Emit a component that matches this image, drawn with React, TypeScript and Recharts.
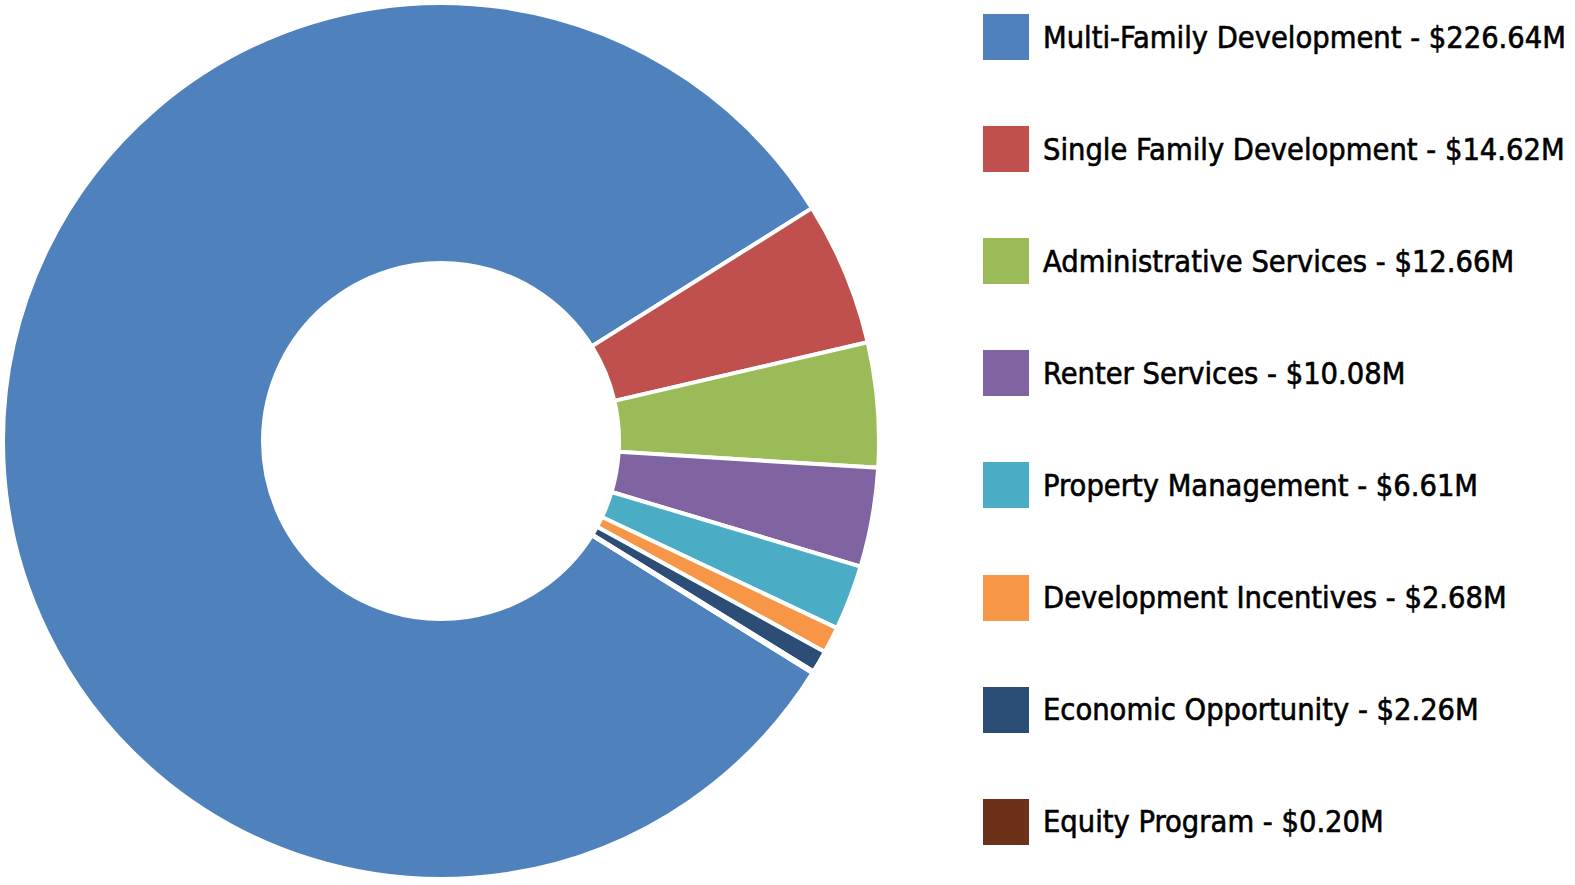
import { Cell, Legend, Pie, PieChart } from 'recharts'

const CATEGORIES = [
  'Multi-Family Development',
  'Single Family Development',
  'Administrative Services',
  'Renter Services',
  'Property Management',
  'Development Incentives',
  'Economic Opportunity',
  'Equity Program',
]
const AMOUNTS = [226.64, 14.62, 12.66, 10.08, 6.61, 2.68, 2.26, 0.2]
const COLORS = ['#4F81BD', '#C0504D', '#9BBB59', '#8064A2', '#4BACC6', '#F79646', '#2C4D75', '#6B3119']

const data = CATEGORIES.map((name, i) => ({ name, value: AMOUNTS[i] }))

const FONT = '"DejaVu Sans Condensed", "DejaVu Sans", sans-serif'

function BudgetLegend() {
  return (
    <div style={{ fontFamily: FONT, fontStretch: 'condensed' }}>
      {data.map((d, i) => (
        <div
          key={d.name}
          style={{ display: 'flex', alignItems: 'center', height: 112.1 }}
        >
          <span
            style={{
              width: 46,
              height: 46,
              background: COLORS[i],
              display: 'inline-block',
              marginRight: 14,
              flexShrink: 0,
            }}
          />
          <span
            style={{
              fontSize: 30.5,
              color: '#000',
              whiteSpace: 'nowrap',
              WebkitTextStroke: '0.6px #000',
            }}
          >
            {d.name} - ${d.value.toFixed(2)}M
          </span>
        </div>
      ))}
    </div>
  )
}

export default function App() {
  return (
    <div style={{ position: 'absolute', left: 0, top: 0, background: '#fff' }}>
      <PieChart width={1575} height={885} margin={{ top: 0, right: 0, bottom: 0, left: 0 }}>
        <Pie
          data={data}
          dataKey="value"
          nameKey="name"
          cx={441}
          cy={441}
          innerRadius={178}
          outerRadius={438}
          startAngle={-32}
          endAngle={-392}
          stroke="#ffffff"
          strokeWidth={4}
          isAnimationActive={false}
        >
          {data.map((d, i) => (
            <Cell key={d.name} fill={COLORS[i]} />
          ))}
        </Pie>
        <Legend
          content={<BudgetLegend />}
          layout="vertical"
          wrapperStyle={{ left: 983, top: -19, width: 600 }}
        />
      </PieChart>
    </div>
  )
}
